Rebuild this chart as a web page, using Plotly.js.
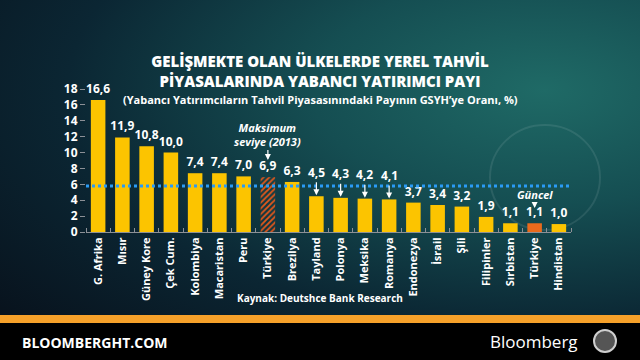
<!DOCTYPE html>
<html><head><meta charset="utf-8">
<script src="https://cdn.plot.ly/plotly-3.0.1.min.js"></script>
<style>
html,body{margin:0;padding:0;width:640px;height:360px;overflow:hidden;}
body{background:radial-gradient(ellipse at 85% 25%, #1f6a66 0%, #154e52 30%, #0b2633 62%, #070d17 100%);}
#chart{width:640px;height:360px;}
</style></head>
<body><div id="chart"></div>
<script>
const categories = ["G. Afrika","Mısır","Güney Kore","Çek Cum.","Kolombiya","Macaristan","Peru","Türkiye","Brezilya","Tayland","Polonya","Meksika","Romanya","Endonezya","İsrail","Şili","Filipinler","Sırbistan","Türkiye","Hindistan"];
const values = [16.6,11.9,10.8,10.0,7.4,7.4,7.0,6.9,6.3,4.5,4.3,4.2,4.1,3.7,3.4,3.2,1.9,1.1,1.1,1.0];
const average = 5.8;
const arrowed = ["Tayland","Polonya","Meksika","Romanya"];
const yTicks = [0,2,4,6,8,10,12,14,16,18];

const idx = categories.map((c,i)=>i);
const fmt = v => v.toFixed(1).replace('.', ',');
const yellow = '#fcc400', orange = '#ea6a1c';
const colors = categories.map((c,i)=> i===18 ? orange : (i===7 ? '#e8581a' : yellow));
const shapesP = categories.map((c,i)=> i===7 ? '/' : '');
const labels = categories.map((c,i)=> arrowed.includes(c) ? '' : fmt(values[i]));

const xp = px => (px-86)/485;
const yp = py => (232-py)/143;
const W = {family:'Open Sans', weight:700, color:'#ffffff'};

const trace = {
  type:'bar', x: idx, y: values, width:0.6,
  marker:{color:colors, line:{width:0},
    pattern:{shape:shapesP, fgcolor:'#f8a82a', bgcolor:'#e8581a', size:4, solidity:0.45, fillmode:'replace'}},
  text: labels, textposition:'outside', cliponaxis:false, constraintext:'none',
  textfont:{family:'Open Sans', weight:700, size:12, color:'#ffffff'},
  hoverinfo:'none'
};

const annotations = [];
annotations.push({xref:'paper', yref:'paper', x:xp(320), y:yp(99), text:'(Yabancı Yatırımcıların Tahvil Piyasasınındaki Payının GSYH’ye Oranı, %)',
  showarrow:false, font:Object.assign({size:11}, W), xanchor:'center', yanchor:'middle'});
arrowed.forEach(c=>{
  const i = categories.indexOf(c);
  annotations.push({x:i, y:values[i], xref:'x', yref:'y', text:fmt(values[i]), showarrow:true,
    ax:0, ay:-24, arrowhead:2, arrowsize:1, arrowwidth:1.2, arrowcolor:'#ffffff', standoff:1,
    font:{family:'Open Sans', weight:700, size:12, color:'#ffffff'}});
});
annotations.push({x:7, y:(232-160)/7.944, xref:'x', yref:'y', text:'Maksimum<br>seviye (2013)', showarrow:true,
  ax:0, ay:-26, arrowhead:2, arrowsize:1, arrowwidth:1.2, arrowcolor:'#ffffff', standoff:0,
  font:{family:'Open Sans', weight:700, style:'italic', size:11, color:'#ffffff'}});
annotations.push({x:18, y:(232-208)/7.944, xref:'x', yref:'y', text:'Güncel', showarrow:true,
  ax:0, ay:-14, arrowhead:2, arrowsize:1, arrowwidth:1.2, arrowcolor:'#ffffff', standoff:0,
  font:{family:'Open Sans', weight:700, style:'italic', size:11, color:'#ffffff'}});
annotations.push({xref:'paper', yref:'paper', x:xp(320), y:yp(298), xanchor:'center', yanchor:'middle', text:'Kaynak: Deutshce Bank Research',
  showarrow:false, font:Object.assign({size:10}, W)});
annotations.push({xref:'paper', yref:'paper', x:xp(20), y:yp(342), xanchor:'left', yanchor:'middle', text:'BLOOMBERGHT.COM',
  showarrow:false, font:Object.assign({size:14}, W)});
annotations.push({xref:'paper', yref:'paper', x:xp(580), y:yp(341), xanchor:'right', yanchor:'middle', text:'Bloomberg',
  showarrow:false, font:{family:'Open Sans', weight:400, size:17, color:'#ffffff'}});

const shapes = [
  {type:'line', xref:'x', yref:'y', x0:-0.5, x1:19.5, y0:average, y1:average, layer:'above',
   line:{color:'#2a9bf5', width:3, dash:'dot'}},
  {type:'rect', xref:'paper', yref:'paper', x0:xp(0), x1:xp(640), y0:yp(323), y1:yp(315), line:{width:0}, fillcolor:'#f6a12a'},
  {type:'rect', xref:'paper', yref:'paper', x0:xp(0), x1:xp(640), y0:yp(361), y1:yp(323), line:{width:0}, fillcolor:'#000000'},
  {type:'circle', xref:'paper', yref:'paper', x0:xp(594), x1:xp(616), y0:yp(352), y1:yp(330), line:{width:2, color:'#cfcfcf'}, fillcolor:'#555555'},
  {type:'circle', xref:'paper', yref:'paper', x0:xp(490), x1:xp(600), y0:yp(230), y1:yp(125), line:{width:2, color:'rgba(200,210,210,0.12)'}, fillcolor:'rgba(0,0,0,0)', layer:'below'}
];

const layout = {
  width:640, height:360,
  margin:{l:86, r:69, t:89, b:128},
  paper_bgcolor:'rgba(0,0,0,0)', plot_bgcolor:'rgba(0,0,0,0)',
  separators:',.',
  showlegend:false,
  title:{text:'GELİŞMEKTE OLAN ÜLKELERDE YEREL TAHVİL<br>PİYASALARINDA YABANCI YATIRIMCI PAYI',
    x:0.5, xanchor:'center', y:1-67/360, yanchor:'top', yref:'container',
    font:{family:'Open Sans', weight:800, size:15, color:'#ffffff'}},
  xaxis:{range:[-0.5,19.5], tickvals:idx, ticktext:categories, tickangle:-90, ticks:'',
    tickfont:{family:'Open Sans', weight:700, size:11, color:'#ffffff'},
    showgrid:false, zeroline:false, showline:true, linecolor:'#8c9096', linewidth:1, fixedrange:true,
    minor:{tickvals:idx.map(i=>i-0.5).concat([19.5]), ticks:'inside', ticklen:4, tickcolor:'#8c9096', showgrid:false}},
  yaxis:{range:[0,18], tickvals:yTicks, ticks:'outside', ticklen:5, tickcolor:'#8c9096', tickwidth:1,
    tickfont:{family:'Open Sans', weight:700, size:12, color:'#ffffff'},
    showgrid:false, zeroline:false, showline:false, fixedrange:true},
  annotations, shapes
};

Plotly.newPlot('chart', [trace], layout, {displayModeBar:false, staticPlot:true});
</script></body></html>
